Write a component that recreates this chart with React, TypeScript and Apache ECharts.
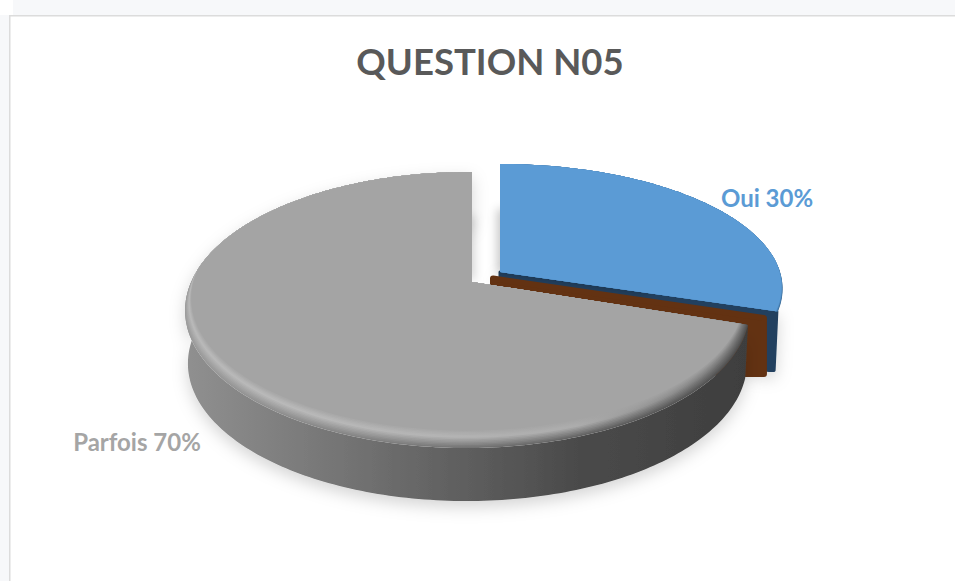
import React, { useEffect, useRef } from "react";
import * as echarts from "echarts";

const titleText = "QUESTION N05";
const categories = ["Oui", "Non", "Parfois"];
const shares = [30, 0, 70];

const sliceGeo = [
  { ax: 500, ay: 272, rx: 280, ry: 122.6, b: 0.135, c: 0, drop: 60 },
  { ax: 493, ay: 278.5, rx: 273, ry: 122.6, b: 0.135, c: 0, drop: 56 },
  { ax: 472, ay: 282, rx: 276.4, ry: 132.3, b: 0.203, c: 0.016, drop: 53 },
];
const labelPos = [
  { x: 767, y: 197, color: "#5b9bd5" },
  null,
  { x: 137, y: 441, color: "#a5a5a5" },
];

const hex = (s: string) => [1, 3, 5].map((i) => parseInt(s.slice(i, i + 2), 16));
const mix = (a: string, b: string, t: number) => {
  const A = hex(a), B = hex(b);
  return "rgb(" + A.map((v, i) => Math.round(v + (B[i] - v) * t)).join(",") + ")";
};
const toHex = (rgb: string) => {
  const m = rgb.match(/\d+/g)!.map(Number);
  return "#" + m.map((v) => v.toString(16).padStart(2, "0")).join("");
};

const grayStopsPos = [0, 0.2, 0.45, 0.7, 1];
const graySide = ["#909090", "#7c7c7c", "#636363", "#4a4a4a", "#3e3e3e"];
const grayRim = ["#bababa", "#bababa", "#b6b6b6", "#aeaeae", "#7a7a7a"];
const grayTop = "#a4a4a4";

const proj = (g: any, deg: number, r = 1): number[] => {
  const a = (deg * Math.PI) / 180;
  const u = Math.sin(a) * r, v = -Math.cos(a) * r;
  const k = 1 / (1 - g.b * v + g.c * u);
  return [g.ax + g.rx * u * k, g.ay + g.ry * v * k];
};
const rimW = (deg: number) => {
  const v = -Math.cos((deg * Math.PI) / 180);
  return Math.max(0, Math.min(1, (v + 0.1) / 1.1));
};
const arc = (g: any, from: number, to: number, d = 0, r = 1) => {
  const out: number[][] = [];
  const n = Math.max(1, Math.ceil(Math.abs(to - from)));
  for (let i = 0; i <= n; i++) {
    const t = from + ((to - from) * i) / n;
    out.push(proj(g, t, r * (1 - d * rimW(t))));
  }
  return out;
};
const sideShape = (g: any, from: number, to: number) => {
  const top = arc(g, from, to);
  const bottom = arc(g, from, to)
    .map((p) => [g.ax + (p[0] - g.ax) * 0.99, p[1] + g.drop])
    .reverse();
  return top.concat(bottom);
};
const grad = (cols: string[]) =>
  new echarts.graphic.LinearGradient(
    0, 0, 1, 0,
    cols.map((color, i) => ({ offset: grayStopsPos[i], color }))
  );

const renderItem = (params: any, api: any) => {
  const i = params.dataIndex;
  const share = api.value(0);
  const cum = api.value(1);
  const from = (cum / 100) * 360;
  const to = ((cum + share) / 100) * 360;
  const g = sliceGeo[i];
  const apex = [g.ax, g.ay];
  const children: any[] = [];
  const poly = (points: number[][], style: any) =>
    children.push({ type: "polygon", shape: { points }, style });
  const shadow = { shadowBlur: 16, shadowOffsetY: 6, shadowColor: "rgba(0,0,0,0.17)" };

  if (share === 0) {
    // a zero share is only the wall standing on the cut
    const e = proj(g, from);
    poly(
      [apex, e, [e[0], e[1] + g.drop], [e[0] - 40, e[1] + g.drop], [g.ax, g.ay + g.drop]],
      { fill: "#633212", stroke: "#633212", lineWidth: 6, lineJoin: "round" }
    );
  } else if (i === 0) {
    const end = proj(g, to);
    const endLow = [g.ax + (end[0] - g.ax) * 0.99, end[1] + g.drop];
    poly(
      [apex, [end[0] - 1, end[1]], [endLow[0] - 1, endLow[1] - 1], [endLow[0] - 6, endLow[1] - 1], [g.ax, g.ay + g.drop]],
      { fill: "#22405e", stroke: "#22405e", lineWidth: 3, lineJoin: "round", ...shadow }
    );
    poly([apex].concat(arc(g, from, to, 0, 0.55)), {
      fill: "#22405e",
      shadowBlur: 10,
      shadowOffsetX: -3,
      shadowColor: "rgba(0,0,0,0.22)",
    });
    const steps = 5;
    for (let s = 0; s <= steps; s++) {
      const t = s / steps;
      poly([apex].concat(arc(g, from, to, 0.018 * t)), {
        fill: mix("#3a6a96", "#5b9bd5", t),
      });
    }
  } else {
    poly([apex].concat(arc(g, to - 40, to, 0, 0.55)), {
      fill: grayTop,
      shadowBlur: 10,
      shadowOffsetX: 3,
      shadowColor: "rgba(0,0,0,0.16)",
    });
    poly(sideShape(g, from, to), { fill: grad(graySide), ...shadow });
    const steps = 12;
    for (let s = 0; s <= steps; s++) {
      const t = s / steps;
      let cols: string[];
      if (t < 0.6) cols = graySide.map((c, n) => toHex(mix(c, grayRim[n], 0.25 + (0.75 * t) / 0.6)));
      else cols = grayRim.map((c) => toHex(mix(c, grayTop, (t - 0.6) / 0.4)));
      poly([apex].concat(arc(g, from, to, 0.085 * t)), { fill: grad(cols) });
    }
  }

  const lp = labelPos[i];
  if (lp) {
    children.push({
      type: "text",
      x: lp.x,
      y: lp.y,
      z2: 50,
      style: {
        text: categories[i] + " " + share + "%",
        fill: lp.color,
        font: "bold 24px Lato",
        align: "center",
        verticalAlign: "middle",
      },
    });
  }
  return { type: "group", children };
};

export default function App() {
  const ref = useRef<HTMLDivElement>(null);
  useEffect(() => {
    const chart = echarts.init(ref.current!, null, { renderer: "svg" });
    let running = 0;
    const seriesData = shares.map((v, i) => {
      const d = { name: categories[i], value: [v, running] };
      running += v;
      return d;
    });
    chart.setOption({
      animation: false,
      backgroundColor: "#ffffff",
      title: {
        text: titleText,
        left: 485,
        top: 37,
        textAlign: "center",
        textStyle: { fontFamily: "Lato", fontWeight: "bold", fontSize: 36.5, color: "#595959" },
      },
      graphic: [
        { type: "rect", z: 0, shape: { x: 13, y: 0, width: 942, height: 15 }, style: { fill: "#f7f8fa" } },
        { type: "rect", z: 0, shape: { x: 0, y: 15, width: 9, height: 566 }, style: { fill: "#f7f8fa" } },
        { type: "rect", z: 0, shape: { x: 9, y: 15, width: 946, height: 1.5 }, style: { fill: "#dcdcdc" } },
        { type: "rect", z: 0, shape: { x: 9, y: 15, width: 1.5, height: 566 }, style: { fill: "#dcdcdc" } },
      ],
      series: [
        {
          type: "custom",
          coordinateSystem: "none",
          renderItem,
          data: seriesData,
          silent: true,
        },
      ],
    });
    return () => chart.dispose();
  }, []);
  return (
    <div
      ref={ref}
      style={{ position: "fixed", left: 0, top: 0, width: 955, height: 581 }}
    />
  );
}
